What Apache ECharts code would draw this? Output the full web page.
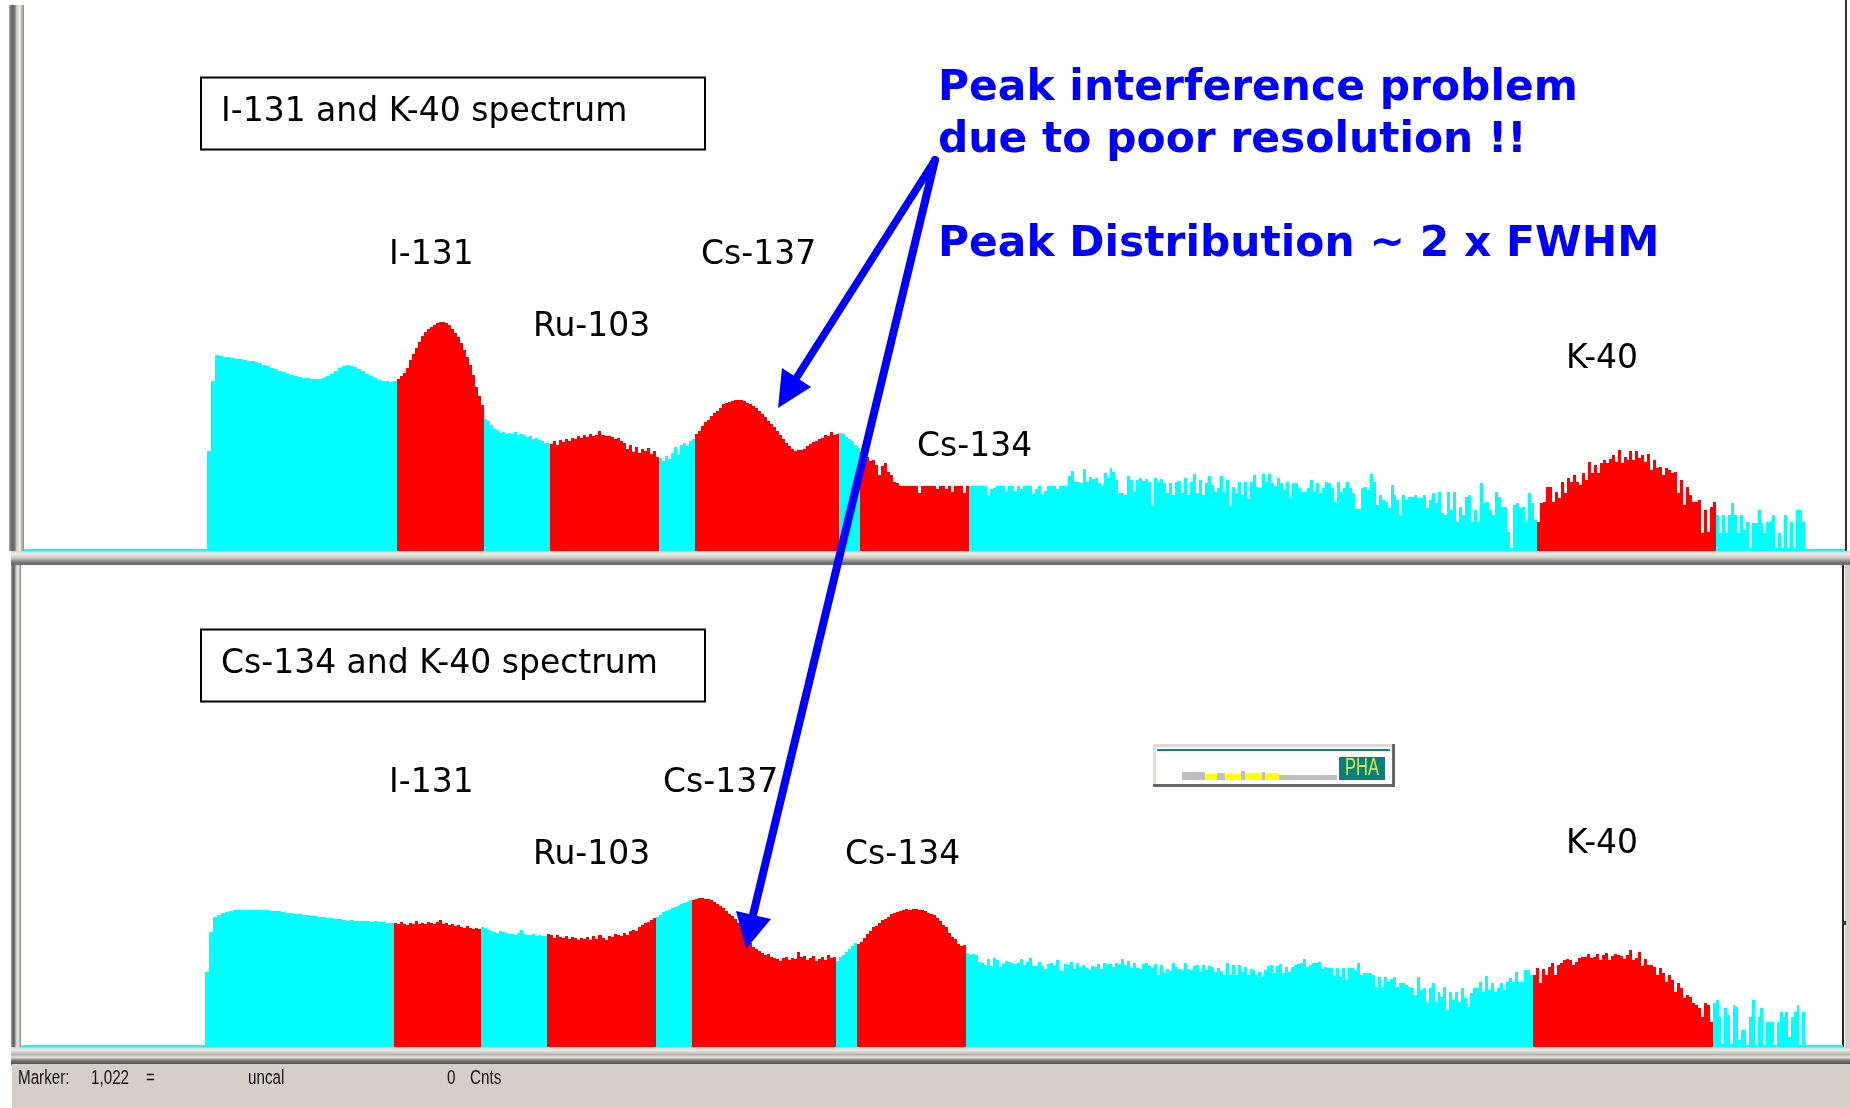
<!DOCTYPE html>
<html><head><meta charset="utf-8">
<script src="https://cdn.jsdelivr.net/npm/echarts@6/dist/echarts.min.js"></script>
<style>html,body{margin:0;padding:0;background:#fff;overflow:hidden}#c{width:1850px;height:1108px}</style>
</head><body><div id="c"></div>
<script>
// ROI edges in channels
const topEdges=[0,183,373,460,526,635,671,815,836,945,1513,1692,1781,1821];
const botEdges=[0,184,373,460,526,635,671,815,836,945,1512,1692,1784,1822];
// Upper spectrum: I-131 and K-40
const topBase1=[2];
const topBg1=[100,170,196,195,194,194,193,192,192,191,190,190,189,188,186,185,183,182,180,179,177,176,175,174,173,173,172,172,172,173,175,177,180,183,185,186,185,184,182,180,177,175,173,171,170,170,169,170];
const topI131=[172,175,178,183,191,197,203,209,215,219,222,224,226,228,229,229,228,226,222,218,214,208,201,194,186,176,164,155,146];
const topBg2=[132,130,126,122,121,118,119,117,118,117,119,116,117,116,114,115,112,113,111,110,108,108];
const topRu103=[107,110,106,111,109,112,110,113,112,115,113,116,114,117,115,116,120,116,115,115,114,112,113,110,108,102,106,99,104,98,102,100,103,97,100,94];
const topBg3=[93,90,95,92,98,104,96,106,108,105,110,112];
const topCs137=[117,120,125,129,131,135,138,140,143,147,148,149,150,151,151,151,150,148,147,145,143,140,137,134,130,127,124,120,116,112,108,105,102,100,101,101,102,105,107,109,110,112,113,116,115,119,116,117];
const topBg4=[118,117,114,112,110,106,103];
const topCs134=[99,96,94,90,91,86,76,85,88,79,76,69,68,65,65,65,65,65,65,58,65,65,65,65,65,62,65,65,62,65,59,65,65,65,58,65];
const topBg5=[65,65,65,65,65,65,55,62,63,65,65,65,60,65,65,60,65,62,65,65,65,57,62,65,56,60,65,65,65,62,65,65,65,75,80,69,69,68,82,69,74,72,73,68,65,78,73,83,79,71,58,58,56,75,71,59,71,73,70,72,69,45,73,69,72,68,58,68,56,69,70,58,73,56,69,77,58,71,56,68,75,66,59,63,75,59,71,45,64,58,69,56,69,52,69,76,64,63,77,69,77,68,65,73,68,61,69,53,68,68,63,59,59,63,71,59,68,58,63,69,68,63,49,69,59,63,69,63,58,42,42,63,64,61,77,69,46,56,51,49,43,66,56,51,36,56,51,54,54,56,53,53,56,43,51,58,48,59,38,36,59,41,59,29,44,36,54,56,29,41,29,68,48,49,41,36,59,54,44,44,19,3,46,48,43,44,29,58,48,31];
const topK40=[29,48,49,64,64,49,59,53,69,58,73,69,76,69,66,78,71,89,78,86,78,88,91,88,92,96,89,101,88,94,91,100,91,100,93,96,89,97,81,91,83,84,76,83,81,78,79,58,71,46,64,56,49,49,51,18,41,19,44,49];
const topBg6=[36,18,36,18,36,48,36,18,36,21,29,3,28,28,41,28,18,29,29,36,3,18,3,36,3,29,3,41,41,29];
const topBase2=[2];
// Lower spectrum: Cs-134 and K-40
const botBase1=[2];
const botBg1=[75,115,130,132,134,135,136,137,137,137,137,137,137,137,137,137,136,136,136,135,134,134,133,133,132,132,131,131,130,130,129,129,128,128,127,126,127,126,126,126,126,125,126,125,125,124,124];
const botI131=[124,123,125,123,122,124,123,126,123,124,123,125,124,123,125,127,123,124,122,123,121,122,120,119,121,119,118,119,118];
const botBg2=[120,119,117,116,115,114,116,115,114,113,113,112,114,117,113,112,112,113,111,112,111,111];
const botRu103=[113,112,109,112,110,109,111,108,110,109,107,109,108,110,107,111,108,112,109,107,111,110,113,112,111,114,112,116,117,116,120,122,124,125,127,129];
const botBg3=[130,132,135,136,137,139,140,141,143,144,145,147];
const botCs137=[147,148,149,149,148,148,147,145,143,141,139,136,133,131,128,124,119,114,109,104,100,98,96,94,92,93,90,89,88,86,89,90,87,89,88,95,90,91,87,89,91,86,88,90,87,92,89,90];
const botBg4=[86,90,92,95,98,101,104];
const botCs134=[103,105,109,113,116,120,121,124,127,128,130,133,134,135,136,137,138,137,138,138,137,137,136,134,133,132,129,126,122,120,114,110,108,103,101,102];
const botBg5=[94,92,93,92,85,84,82,88,81,89,87,80,83,86,85,84,83,84,88,82,85,89,81,81,85,81,78,83,84,81,87,77,76,83,82,85,78,84,80,82,79,77,81,80,83,78,84,83,83,80,84,83,88,82,86,79,84,79,78,83,84,81,79,83,72,82,74,78,76,84,80,78,77,84,78,77,81,82,75,82,77,81,80,75,79,76,72,84,72,82,72,82,75,80,72,78,77,72,75,70,77,81,82,74,81,83,74,80,75,80,82,83,84,88,80,82,84,84,85,78,80,79,79,71,79,70,79,67,79,79,77,84,72,74,74,74,72,60,70,60,70,65,68,70,60,64,64,62,60,59,52,70,57,59,45,59,64,45,55,50,60,37,55,47,55,45,59,49,40,54,59,59,65,55,71,57,64,55,59,64,57,65,69,65,75,65,65,77,77,72];
const botK40=[72,79,64,78,72,80,84,72,82,84,87,88,87,82,85,89,90,90,93,89,90,93,87,92,94,87,91,93,92,91,88,92,97,87,89,95,81,88,82,82,80,72,79,74,65,72,67,55,64,59,49,52,50,44,42,39,30,44,42,25];
const botBg6=[44,47,30,3,39,32,3,42,40,7,17,17,2,30,47,2,30,39,2,25,25,25,2,25,35,30,35,10,30,35,42,2,35];
const botBase2=[2];
const topSegments=[topBase1,topBg1,topI131,topBg2,topRu103,topBg3,topCs137,topBg4,topCs134,topBg5,topK40,topBg6,topBase2];
const botSegments=[botBase1,botBg1,botI131,botBg2,botRu103,botBg3,botCs137,botBg4,botCs134,botBg5,botK40,botBg6,botBase2];
const roiFlags=[0,0,1,0,1,0,1,0,1,0,1,0,0];
// Inset PHA thumbnail
const phaEdges=[0,23,35,43,59,63,80,83,97,155];
const phaValues=[8,6,7,6,9,7,8,7,5];
const phaFlags=[0,1,0,1,0,1,0,1,0];

const CYAN='#00ffff',RED='#ff0000',BLUE='#0000ff';
function rows(edges,segs,flags,want){
  const out=[];
  segs.forEach((vals,s)=>{
    if(flags[s]!==want)return;
    const a=edges[s],b=edges[s+1],w=(b-a)/vals.length;
    vals.forEach((v,i)=>out.push([a+i*w,a+(i+1)*w,v]));
  });
  return out;
}
function renderBar(params,api){
  const p0=api.coord([api.value(0),api.value(2)]);
  const p1=api.coord([api.value(1),0]);
  const x0=Math.round(p0[0]),x1=Math.round(p1[0]);
  return {type:'rect',shape:{x:x0,y:p0[1],width:x1-x0,height:p1[1]-p0[1]},style:{fill:api.visual('color')}};
}
function bars(name,edges,segs,flags,want,color,idx){
  return {type:'custom',name,xAxisIndex:idx,yAxisIndex:idx,renderItem:renderBar,
    data:rows(edges,segs,flags,want),encode:{x:[0,1],y:2},itemStyle:{color},silent:true,animation:false,clip:false,z:3,progressive:0};
}
const F='"DejaVu Sans"';
function label(text,x,y,size){
  return {type:'text',z:20,style:{text,x,y:y+6,fill:'#000',font:`${size||33}px ${F}`,textVerticalAlign:'middle',verticalAlign:'middle'}};
}
function blue(text,x,y,size){
  return {type:'text',z:21,style:{text,x,y:y+6,fill:BLUE,font:`bold ${size}px ${F}`,textVerticalAlign:'middle',verticalAlign:'middle'}};
}
function rect(x,y,w,h,fill,z,extra){
  return {type:'rect',z:z||1,shape:{x,y,width:w,height:h},style:Object.assign({fill},extra||{})};
}
function hGrad(st){return {type:'linear',x:0,y:0,x2:0,y2:1,colorStops:st};}
function vGrad(st){return {type:'linear',x:0,y:0,x2:1,y2:0,colorStops:st};}
const vStops=[{offset:0,color:'#a8a8a8'},{offset:.2,color:'#5e5e5e'},{offset:.38,color:'#777'},{offset:.5,color:'#c8c6c0'},{offset:.72,color:'#f2f0ea'},{offset:.85,color:'#b8b6b0'},{offset:1,color:'#8a8a8a'}];
const hStops=[{offset:0,color:'#d4d0c8'},{offset:.2,color:'#ecebe6'},{offset:.45,color:'#d4d0c8'},{offset:.62,color:'#aaa9a6'},{offset:.8,color:'#777'},{offset:1,color:'#6a6a6a'}];
const hStops2=[{offset:0,color:'#d4d0c8'},{offset:.18,color:'#ecebe6'},{offset:.45,color:'#b5b3ad'},{offset:.6,color:'#e8e6e0'},{offset:.8,color:'#777'},{offset:1,color:'#555'}];
function arrow(x0,y0,x1,y1,tip,w1,w2,lw){
  return [
    {type:'line',z:22,shape:{x1:x0,y1:y0,x2:x1,y2:y1},style:{stroke:BLUE,lineWidth:lw,lineCap:'round'}},
    {type:'polygon',z:22,shape:{points:[tip,w1,w2]},style:{fill:BLUE}}
  ];
}
const graphics=[
  // window chrome
  rect(9,5,15,546,vGrad(vStops),1),
  rect(11,551,10,515,vGrad(vStops),1),
  rect(11,551,1839,14,hGrad(hStops),2),
  rect(11,1047,1839,17,hGrad(hStops2),2),
  rect(12,1064,1838,44,'#d4d0c8',2),
  rect(1845,0,2,551,'#333',2),
  rect(1842,565,2,482,'#222',2),
  rect(1845,565,5,485,'#d4d0c8',1),
  rect(1842,921,4,4,'#333',6),
  // title boxes
  {type:'rect',z:10,shape:{x:201,y:77.5,width:504,height:72},style:{fill:'#fff',stroke:'#000',lineWidth:2}},
  {type:'rect',z:10,shape:{x:201,y:629.5,width:504,height:72},style:{fill:'#fff',stroke:'#000',lineWidth:2}},
  label('I-131 and K-40 spectrum',221,106),
  label('Cs-134 and K-40 spectrum',221,658),
  // isotope labels, upper
  label('I-131',389,249),label('Ru-103',533,321),label('Cs-137',701,249),label('Cs-134',917,441),label('K-40',1566,353),
  // isotope labels, lower
  label('I-131',389,777),label('Cs-137',663,777),label('Ru-103',533,849),label('Cs-134',845,849),label('K-40',1566,838),
  // annotation
  blue('Peak interference problem',938,83,42.4),
  blue('due to poor resolution !!',938,135,42.4),
  blue('Peak Distribution ~ 2 x FWHM',938,239,42.4),
  ...arrow(935,160,797,377,[778,408],[782,368],[811,387],7.5),
  ...arrow(935,160,753,915,[746,949],[736,911],[771,919],8),
  // PHA thumbnail frame
  rect(1153,744,242,43,'#fff',8),
  rect(1153,744,242,3,'#dedcd6',9),
  rect(1153,744,3,43,'#dedcd6',9),
  rect(1153,784,242,3,'#666',9),
  rect(1392,744,3,43,'#666',9),
  rect(1157,749,233,2,'#0e8a84',9),
  rect(1339,757,46,23,'#0b7f79',9),
  {type:'text',z:12,x:1362,y:769,scaleX:.72,style:{text:'PHA',x:0,y:0,fill:'#d9e84a',font:'23px "Liberation Sans"',textAlign:'center',textVerticalAlign:'middle',verticalAlign:'middle'}},
  // status bar
  ...[['Marker:',18],['1,022',91],['=',146],['uncal',248],['0',447],['Cnts',470]].map(([t,x])=>({type:'text',z:12,x:x,y:1078,scaleX:.76,style:{text:t,x:0,y:0,fill:'#111',font:'20px "Liberation Sans"',textVerticalAlign:'middle',verticalAlign:'middle'}}))
];
const hiddenX=(i,max)=>({type:'value',gridIndex:i,min:0,max,show:false});
const hiddenY=(i,max)=>({type:'value',gridIndex:i,min:0,max,show:false});
const option={
  animation:false,backgroundColor:'#fff',
  grid:[
    {left:24,top:0,width:1821,height:551,show:false},
    {left:21,top:565,width:1822,height:482,show:false},
    {left:1182,top:770,width:155,height:10,show:false}
  ],
  xAxis:[hiddenX(0,1821),hiddenX(1,1822),hiddenX(2,155)],
  yAxis:[hiddenY(0,551),hiddenY(1,482),hiddenY(2,10)],
  series:[
    bars('Upper background',topEdges,topSegments,roiFlags,0,CYAN,0),
    bars('Upper ROI',topEdges,topSegments,roiFlags,1,RED,0),
    bars('Lower background',botEdges,botSegments,roiFlags,0,CYAN,1),
    bars('Lower ROI',botEdges,botSegments,roiFlags,1,RED,1),
    Object.assign(bars('PHA background',phaEdges,phaValues.map(v=>[v]),phaFlags,0,'#c0c0c0',2),{z:11}),
    Object.assign(bars('PHA ROI',phaEdges,phaValues.map(v=>[v]),phaFlags,1,'#ffff00',2),{z:11})
  ],
  graphic:{elements:graphics}
};
echarts.init(document.getElementById('c'),null,{renderer:'canvas'}).setOption(option);
</script></body></html>
